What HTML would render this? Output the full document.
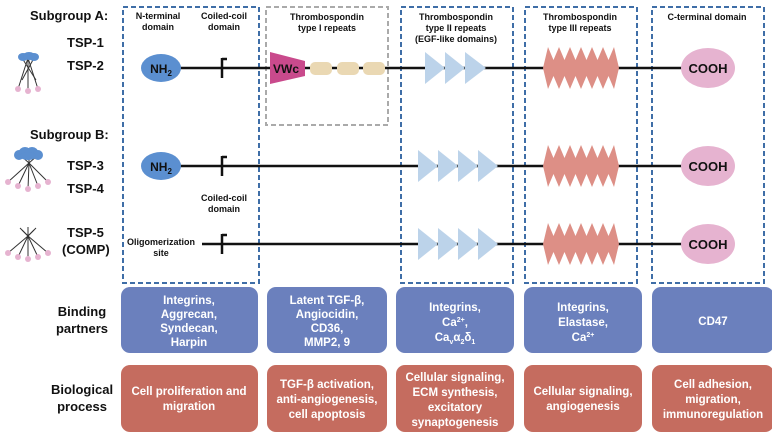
<!DOCTYPE html>
<html><head><meta charset="utf-8"><style>
body{margin:0;background:#fff;}
svg{display:block;font-family:"Liberation Sans",sans-serif;font-weight:bold;}
</style></head><body>
<svg width="772" height="437" viewBox="0 0 772 437" xmlns="http://www.w3.org/2000/svg">
<defs>
<g id="zig"><polygon points="543,0 548,-21 553.5,-8 559,-21 564.5,-8 570,-21 575.5,-8 581,-21 586.5,-8 592,-21 597.5,-8 603,-21 608.5,-8 614,-21 619,0 614,21 608.5,8 603,21 597.5,8 592,21 586.5,8 581,21 575.5,8 570,21 564.5,8 559,21 553.5,8 548,21" fill="#dd8f86"/></g>
<g id="tri4"><polygon points="418,-16 438,0 418,16" fill="#bcd3ea"/><polygon points="438,-16 458,0 438,16" fill="#bcd3ea"/><polygon points="458,-16 478,0 458,16" fill="#bcd3ea"/><polygon points="478,-16 498,0 478,16" fill="#bcd3ea"/></g>
<g id="cooh"><ellipse cx="708" cy="0" rx="27" ry="20" fill="#e6b3d0"/><text x="708" y="5" font-size="13" text-anchor="middle" fill="#111">COOH</text></g>
</defs>
<g fill="none" stroke="#3f6ea7" stroke-width="2" stroke-dasharray="5,3">
<rect x="123" y="7" width="136" height="276"/>
<rect x="401" y="7" width="112" height="276"/>
<rect x="525" y="7" width="112" height="276"/>
<rect x="652" y="7" width="112" height="276"/>
</g>
<rect x="266" y="7" width="122" height="118" fill="none" stroke="#aaa" stroke-width="2" stroke-dasharray="5,3"/>
<g font-size="9" text-anchor="middle" fill="#111">
<text x="158" y="19">N-terminal</text><text x="158" y="30">domain</text>
<text x="224" y="19">Coiled-coil</text><text x="224" y="30">domain</text>
<text x="327" y="20">Thrombospondin</text><text x="327" y="31">type I repeats</text>
<text x="456" y="20">Thrombospondin</text><text x="456" y="31">type II repeats</text><text x="456" y="42">(EGF-like domains)</text>
<text x="580" y="20">Thrombospondin</text><text x="580" y="31">type III repeats</text>
<text x="707" y="20">C-terminal domain</text>
<text x="224" y="201">Coiled-coil</text><text x="224" y="212">domain</text>
<text x="161" y="245">Oligomerization</text><text x="161" y="256">site</text>
</g>
<g font-size="13" fill="#111">
<text x="30" y="20">Subgroup A:</text>
<text x="30" y="139">Subgroup B:</text>
<text x="67" y="47">TSP-1</text><text x="67" y="70">TSP-2</text>
<text x="67" y="170">TSP-3</text><text x="67" y="193">TSP-4</text>
<text x="67" y="237">TSP-5</text><text x="62" y="254">(COMP)</text>
</g>
<g stroke="#333" stroke-width="1">
<line x1="28" y1="58" x2="18" y2="89"/><line x1="28" y1="58" x2="28" y2="91"/><line x1="28" y1="58" x2="38" y2="89"/><line x1="22" y1="58" x2="36" y2="80"/><line x1="34" y1="58" x2="22" y2="80"/>
<line x1="29" y1="163" x2="8" y2="182"/><line x1="29" y1="163" x2="18" y2="186"/><line x1="29" y1="163" x2="28" y2="189"/><line x1="29" y1="163" x2="38" y2="186"/><line x1="29" y1="163" x2="48" y2="182"/><line x1="29" y1="163" x2="20" y2="155"/><line x1="29" y1="163" x2="38" y2="155"/><line x1="29" y1="163" x2="29" y2="153"/>
<line x1="28" y1="236" x2="8" y2="253"/><line x1="28" y1="236" x2="18" y2="257"/><line x1="28" y1="236" x2="28" y2="259"/><line x1="28" y1="236" x2="38" y2="257"/><line x1="28" y1="236" x2="48" y2="253"/><line x1="28" y1="236" x2="20" y2="228"/><line x1="28" y1="236" x2="36" y2="228"/><line x1="28" y1="236" x2="28" y2="227"/><line x1="28" y1="236" x2="22" y2="230"/><line x1="28" y1="236" x2="34" y2="230"/>
</g>
<g fill="#5b8fd0"><ellipse cx="23" cy="57" rx="5" ry="4"/><ellipse cx="29" cy="56" rx="6" ry="4"/><ellipse cx="34" cy="57" rx="5" ry="4"/>
<ellipse cx="19" cy="155" rx="5" ry="5"/><ellipse cx="25" cy="152" rx="6" ry="5"/><ellipse cx="32" cy="152" rx="6" ry="5"/><ellipse cx="38" cy="155" rx="5" ry="5"/><ellipse cx="28" cy="156" rx="8" ry="4"/></g>
<g fill="#e6b3d0"><circle cx="18" cy="89" r="3"/><circle cx="28" cy="91" r="3"/><circle cx="38" cy="89" r="3"/>
<circle cx="8" cy="182" r="3"/><circle cx="18" cy="186" r="3"/><circle cx="28" cy="189" r="3"/><circle cx="38" cy="186" r="3"/><circle cx="48" cy="182" r="3"/>
<circle cx="8" cy="253" r="3"/><circle cx="18" cy="257" r="3"/><circle cx="28" cy="259" r="3"/><circle cx="38" cy="257" r="3"/><circle cx="48" cy="253" r="3"/></g>
<g stroke="#111" stroke-width="2.5">
<line x1="178" y1="68" x2="690" y2="68"/><line x1="178" y1="166" x2="690" y2="166"/><line x1="202" y1="244" x2="690" y2="244"/>
<line x1="222" y1="58" x2="222" y2="78"/><line x1="222" y1="156" x2="222" y2="176"/><line x1="222" y1="234" x2="222" y2="254"/>
<line x1="222" y1="59" x2="227" y2="59"/><line x1="222" y1="157" x2="227" y2="157"/><line x1="222" y1="235" x2="227" y2="235"/>
</g>
<ellipse cx="161" cy="68" rx="20" ry="14" fill="#5b8fd0"/>
<text x="161" y="73" font-size="12" text-anchor="middle" fill="#111">NH<tspan font-size="8" dy="3">2</tspan></text>
<polygon points="270,52 305,61 305,76 270,84" fill="#c94a8c"/>
<text x="286" y="73" font-size="12" text-anchor="middle" fill="#111">VWc</text>
<g fill="#ead8b3"><rect x="310" y="62" width="22" height="13" rx="5"/><rect x="337" y="62" width="22" height="13" rx="5"/><rect x="363" y="62" width="22" height="13" rx="5"/></g>
<g fill="#bcd3ea"><polygon points="425,52 445,68 425,84"/><polygon points="445,52 465,68 445,84"/><polygon points="465,52 486,68 465,84"/></g>
<use href="#zig" transform="translate(0,68)"/>
<use href="#cooh" transform="translate(0,68)"/>
<ellipse cx="161" cy="166" rx="20" ry="14" fill="#5b8fd0"/>
<text x="161" y="171" font-size="12" text-anchor="middle" fill="#111">NH<tspan font-size="8" dy="3">2</tspan></text>
<use href="#tri4" transform="translate(0,166)"/>
<use href="#zig" transform="translate(0,166)"/>
<use href="#cooh" transform="translate(0,166)"/>
<use href="#tri4" transform="translate(0,244)"/>
<use href="#zig" transform="translate(0,244)"/>
<use href="#cooh" transform="translate(0,244)"/>
<g font-size="13" fill="#111" text-anchor="middle">
<text x="82" y="316">Binding</text><text x="82" y="333">partners</text>
<text x="82" y="394">Biological</text><text x="82" y="411">process</text>
</g>
<g fill="#6b80bd"><rect x="121" y="287" width="137" height="66" rx="9"/><rect x="267" y="287" width="120" height="66" rx="9"/><rect x="396" y="287" width="118" height="66" rx="9"/><rect x="524" y="287" width="118" height="66" rx="9"/><rect x="652" y="287" width="122" height="66" rx="9"/></g>
<g fill="#c56c5f"><rect x="121" y="365" width="137" height="67" rx="9"/><rect x="267" y="365" width="120" height="67" rx="9"/><rect x="396" y="365" width="118" height="67" rx="9"/><rect x="524" y="365" width="118" height="67" rx="9"/><rect x="652" y="365" width="122" height="67" rx="9"/></g>
<g font-size="11.5" fill="#fff" text-anchor="middle">
<text x="189" y="304">Integrins,</text><text x="189" y="318">Aggrecan,</text><text x="189" y="332">Syndecan,</text><text x="189" y="346">Harpin</text>
<text x="327" y="304">Latent TGF-β,</text><text x="327" y="318">Angiocidin,</text><text x="327" y="332">CD36,</text><text x="327" y="346">MMP2, 9</text>
<text x="455" y="311">Integrins,</text><text x="455" y="326">Ca<tspan font-size="7" dy="-4">2+</tspan><tspan dy="4">,</tspan></text><text x="455" y="341">Ca<tspan font-size="7" dy="3">v</tspan><tspan dy="-3">α</tspan><tspan font-size="7" dy="3">2</tspan><tspan dy="-3">δ</tspan><tspan font-size="7" dy="3">1</tspan></text>
<text x="583" y="311">Integrins,</text><text x="583" y="326">Elastase,</text><text x="583" y="341">Ca<tspan font-size="7" dy="-4">2+</tspan></text>
<text x="713" y="325">CD47</text>
<text x="189" y="395">Cell proliferation and</text><text x="189" y="410">migration</text>
<text x="327" y="388">TGF-β activation,</text><text x="327" y="403">anti-angiogenesis,</text><text x="327" y="418">cell apoptosis</text>
<text x="455" y="381">Cellular signaling,</text><text x="455" y="396">ECM synthesis,</text><text x="455" y="411">excitatory</text><text x="455" y="426">synaptogenesis</text>
<text x="583" y="395">Cellular signaling,</text><text x="583" y="410">angiogenesis</text>
<text x="713" y="388">Cell adhesion,</text><text x="713" y="403">migration,</text><text x="713" y="418">immunoregulation</text>
</g>
</svg>
</body></html>
